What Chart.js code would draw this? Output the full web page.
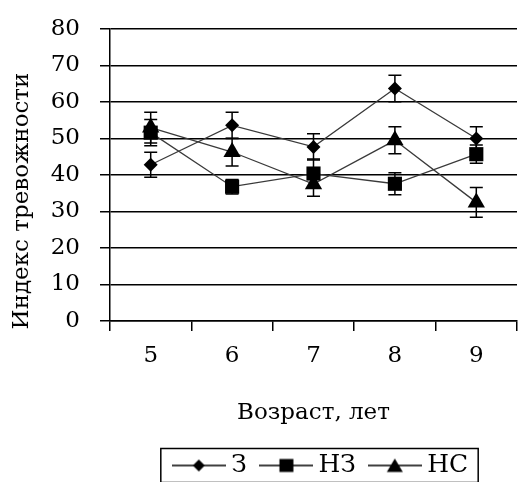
<!DOCTYPE html>
<html>
<head>
<meta charset="utf-8">
<script src="https://cdn.jsdelivr.net/npm/chart.js@4/dist/chart.umd.min.js"></script>
<style>
  html, body { margin: 0; padding: 0; background: #fff; overflow: hidden; }
  #wrap { width: 519px; height: 482px; overflow: hidden; }
</style>
</head>
<body>
<div id="wrap"><canvas id="c" width="527" height="488"></canvas></div>
<script>
// Возраст (лет)
const ages = ['5', '6', '7', '8', '9'];

// Индекс тревожности по группам и стандартные ошибки
const seriesNames = ['З', 'НЗ', 'НС'];
const valuesZ  = [42.8, 53.6, 47.7, 63.7, 50.0];
const valuesNZ = [51.6, 36.8, 40.4, 37.6, 45.7];
const valuesNS = [53.0, 46.3, 37.5, 49.5, 32.5];
const errorsZ  = [3.4, 3.6, 3.6, 3.6, 3.2];
const errorsNZ = [3.6, 2.0, 4.0, 3.0, 2.5];
const errorsNS = [4.2, 3.8, 3.3, 3.7, 4.1];

const yTicks = [0, 10, 20, 30, 40, 50, 60, 70, 80];

const FONT = '"DejaVu Serif", serif';
const INK = '#000';
const LINE = '#3a3a3a';

// Маркер для легенды: отрезок линии с символом посередине
function legendGlyph(style) {
  const cv = document.createElement('canvas');
  cv.width = 54; cv.height = 18;
  const g = cv.getContext('2d');
  g.strokeStyle = INK; g.lineWidth = 1.3;
  g.beginPath(); g.moveTo(0, 9); g.lineTo(54, 9); g.stroke();
  g.fillStyle = INK;
  g.beginPath();
  if (style === 'rectRot') {
    g.moveTo(27, 3); g.lineTo(33, 9); g.lineTo(27, 15); g.lineTo(21, 9);
  } else if (style === 'rect') {
    g.rect(20.5, 2.5, 14, 13);
  } else {
    g.moveTo(27, 2); g.lineTo(35, 15.5); g.lineTo(19, 15.5);
  }
  g.closePath(); g.fill();
  return cv;
}

const markers = ['rectRot', 'rect', 'triangle'];
const radii = [7, 10, 10];
const allValues = [valuesZ, valuesNZ, valuesNS];
const allErrors = [errorsZ, errorsNZ, errorsNS];

const datasets = seriesNames.map((name, i) => ({
  label: name,
  data: allValues[i],
  errors: allErrors[i],
  borderColor: LINE,
  borderWidth: 1.3,
  backgroundColor: INK,
  pointStyle: markers[i],
  pointRadius: radii[i],
  pointBorderWidth: 0,
  pointBackgroundColor: INK,
  tension: 0,
  legendGlyph: legendGlyph(markers[i])
}));

// Планки погрешностей
const errorBars = {
  id: 'errorBars',
  afterDatasetsDraw(chart) {
    const ctx = chart.ctx;
    const y = chart.scales.y;
    ctx.save();
    ctx.strokeStyle = INK;
    ctx.lineWidth = 1.5;
    chart.data.datasets.forEach((ds, di) => {
      const meta = chart.getDatasetMeta(di);
      meta.data.forEach((pt, k) => {
        const v = ds.data[k], e = ds.errors[k];
        const top = y.getPixelForValue(v + e);
        const bot = y.getPixelForValue(v - e);
        const x = pt.x;
        ctx.beginPath();
        ctx.moveTo(x, top); ctx.lineTo(x, bot);
        ctx.moveTo(x - 6.5, top); ctx.lineTo(x + 6.5, top);
        ctx.moveTo(x - 6.5, bot); ctx.lineTo(x + 6.5, bot);
        ctx.stroke();
      });
    });
    ctx.restore();
  }
};

// Подпись вертикальной оси
const yTitle = {
  id: 'yTitle',
  afterDraw(chart) {
    const ctx = chart.ctx;
    const a = chart.chartArea;
    ctx.save();
    ctx.font = '23px ' + FONT;
    ctx.fillStyle = INK;
    ctx.textAlign = 'center';
    ctx.textBaseline = 'middle';
    ctx.translate(22, (a.top + a.bottom) / 2 + 26);
    ctx.rotate(-Math.PI / 2);
    ctx.fillText('Индекс тревожности', 0, 0);
    ctx.restore();
  }
};

// Легенда сдвинута немного вправо и обведена рамкой
const LEGEND_SHIFT = 10;
const legendFrame = {
  id: 'legendFrame',
  afterLayout(chart) {
    const lg = chart.legend;
    if (!lg) return;
    lg.left += LEGEND_SHIFT;
    lg.right += LEGEND_SHIFT;
    (lg.legendHitBoxes || []).forEach(h => { h.left += LEGEND_SHIFT; });
  },
  afterDraw(chart) {
    const lg = chart.legend;
    if (!lg || !lg.legendHitBoxes || !lg.legendHitBoxes.length) return;
    const hb = lg.legendHitBoxes;
    const first = hb[0], last = hb[hb.length - 1];
    const cy = first.top + first.height / 2;
    const left = first.left - 18;
    const right = last.left + last.width + 10;
    const ctx = chart.ctx;
    ctx.save();
    ctx.strokeStyle = INK;
    ctx.lineWidth = 1.5;
    ctx.strokeRect(left, cy - 17, right - left, 34);
    ctx.restore();
  }
};

new Chart(document.getElementById('c'), {
  type: 'line',
  data: { labels: ages, datasets },
  options: {
    responsive: false,
    animation: false,
    devicePixelRatio: 1,
    layout: { padding: { top: 29, right: 2, left: 0, bottom: 0 } },
    plugins: {
      tooltip: { enabled: false },
      legend: {
        position: 'bottom',
        fullSize: false,
        labels: {
          usePointStyle: true,
          pointStyleWidth: 40,
          padding: 19,
          color: INK,
          font: { family: FONT, size: 25 },
          generateLabels(chart) {
            return chart.data.datasets.map((ds, i) => ({
              text: ds.label,
              pointStyle: ds.legendGlyph,
              fillStyle: INK,
              strokeStyle: INK,
              lineWidth: 0,
              fontColor: INK,
              hidden: false,
              datasetIndex: i
            }));
          }
        }
      }
    },
    scales: {
      x: {
        type: 'category',
        offset: true,
        grid: {
          offset: true,
          drawOnChartArea: false,
          drawTicks: true,
          tickLength: 10,
          color: INK,
          lineWidth: 1.5
        },
        border: { display: true, color: INK, width: 1.5 },
        ticks: { color: INK, padding: 11, font: { family: FONT, size: 23 } },
        title: {
          display: true,
          text: 'Возраст, лет',
          color: INK,
          font: { family: FONT, size: 23 },
          padding: { top: 0, bottom: 7 }
        },
        afterFit(scale) {
          scale.height = 113;
          scale.paddingLeft = 0; scale.paddingRight = 0;
        }
      },
      y: {
        min: 0,
        max: 80,
        afterBuildTicks(scale) { scale.ticks = yTicks.map(v => ({ value: v })); },
        grid: {
          drawTicks: true,
          tickLength: 10,
          color: INK,
          lineWidth: 1.5
        },
        border: { display: true, color: INK, width: 1.5 },
        ticks: { color: INK, padding: 20, font: { family: FONT, size: 23 } },
        afterFit(scale) {
          scale.width = 110;
          scale.paddingTop = 0; scale.paddingBottom = 0;
        }
      }
    }
  },
  plugins: [errorBars, yTitle, legendFrame]
});
</script>
</body>
</html>
